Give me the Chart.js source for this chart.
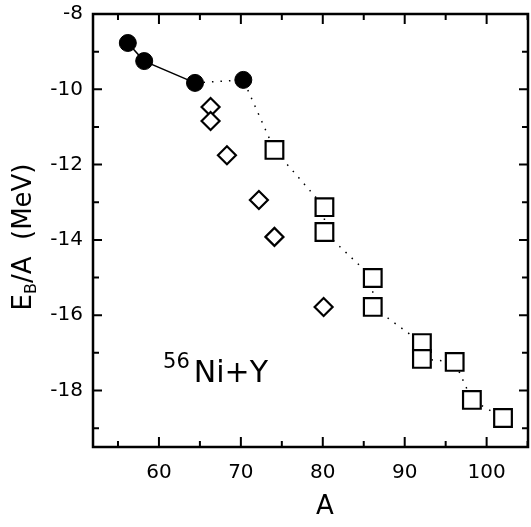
<!DOCTYPE html>
<html>
<head>
<meta charset="utf-8">
<script src="https://cdn.jsdelivr.net/npm/chart.js@4.4.1/dist/chart.umd.min.js"></script>
<style>
  html, body { margin: 0; padding: 0; background: #fff; }
  canvas { display: block; }
</style>
</head>
<body>
<canvas id="bindingChart" width="531" height="527"></canvas>
<script>
// values: A and E_B/A (MeV)
const circleA = [56.2, 58.2, 64.4, 70.3];
const circleE = [-8.77, -9.25, -9.83, -9.75];

const diamondA = [66.3, 66.3, 68.3, 72.2, 74.1, 80.1];
const diamondE = [-10.47, -10.84, -11.75, -12.94, -13.92, -15.78];

const squareA = [74.1, 80.2, 80.2, 86.1, 86.1, 92.1, 92.1, 96.1, 98.2, 102];
const squareE = [-11.61, -13.13, -13.79, -15.01, -15.78, -16.74, -17.16, -17.24, -18.25, -18.73];

const xMajorTicks = [60, 70, 80, 90, 100];
const xMinorTicks = [55, 65, 75, 85, 95, 105];
const yMajorTicks = [-8, -10, -12, -14, -16, -18];
const yMinorTicks = [-9, -11, -13, -15, -17, -19];

const FONT = "'DejaVu Sans', sans-serif";

const toPoints = (xs, ys) => xs.map((a, i) => ({ x: a, y: ys[i] }));

// solid line joins the first three circles, dotted one runs on through the squares
const solidPath = toPoints(circleA.slice(0, 3), circleE.slice(0, 3));
const dottedPath = toPoints(circleA.slice(2), circleE.slice(2)).concat(toPoints(squareA, squareE));

const framePlugin = {
    id: "frame",
    afterDatasetsDraw(chart) {
        const { ctx, chartArea: a, scales: { x, y } } = chart;
        ctx.save();
        ctx.strokeStyle = "#000";
        ctx.lineWidth = 2.5;
        ctx.strokeRect(a.left, a.top, a.right - a.left, a.bottom - a.top);

        ctx.lineWidth = 2;
        ctx.beginPath();
        const xt = (v, len) => {
            const px = x.getPixelForValue(v);
            ctx.moveTo(px, a.bottom); ctx.lineTo(px, a.bottom - len);
            ctx.moveTo(px, a.top); ctx.lineTo(px, a.top + len);
        };
        const yt = (v, len) => {
            const py = y.getPixelForValue(v);
            ctx.moveTo(a.left, py); ctx.lineTo(a.left + len, py);
            ctx.moveTo(a.right, py); ctx.lineTo(a.right - len, py);
        };
        xMajorTicks.forEach((v) => xt(v, 10));
        xMinorTicks.forEach((v) => xt(v, 6));
        yMajorTicks.forEach((v) => yt(v, 9));
        yMinorTicks.forEach((v) => yt(v, 6));
        ctx.stroke();
        ctx.restore();
    },
    afterDraw(chart) {
        const { ctx, scales: { x, y } } = chart;
        ctx.save();
        ctx.fillStyle = "#000";

        // reaction label
        const lx = x.getPixelForValue(60.5);
        const ly = y.getPixelForValue(-17.77);
        ctx.textBaseline = "alphabetic";
        ctx.textAlign = "left";
        ctx.font = "21px " + FONT;
        ctx.fillText("56", lx, ly - 14);
        const w56 = ctx.measureText("56").width;
        ctx.font = "30px " + FONT;
        ctx.fillText("Ni+Y", lx + w56 + 4, ly);

        // x title
        ctx.textAlign = "center";
        ctx.textBaseline = "middle";
        ctx.font = "26px " + FONT;
        ctx.fillText("A", 325, 507);

        // y title with subscript
        ctx.translate(24, 237);
        ctx.rotate(-Math.PI / 2);
        ctx.textAlign = "left";
        ctx.textBaseline = "middle";
        const big = "26px " + FONT, small = "16px " + FONT;
        ctx.font = big;
        const wE = ctx.measureText("E").width;
        const wRest = ctx.measureText("/A  (MeV)").width;
        ctx.font = small;
        const wB = ctx.measureText("B").width;
        let cx = -(wE + wB + wRest) / 2;
        ctx.font = big;
        ctx.fillText("E", cx, 0);
        cx += wE;
        ctx.font = small;
        ctx.fillText("B", cx, 8);
        cx += wB;
        ctx.font = big;
        ctx.fillText("/A  (MeV)", cx, 0);
        ctx.restore();
    },
};

const noPad = (s) => {
    s.paddingTop = 0;
    s.paddingBottom = 0;
    s.paddingLeft = 0;
    s.paddingRight = 0;
};

new Chart(document.getElementById("bindingChart"), {
    type: "scatter",
    data: {
        datasets: [
            {
                label: "circles",
                data: toPoints(circleA, circleE),
                pointStyle: "circle",
                pointRadius: 8.5,
                pointBackgroundColor: "#000",
                pointBorderColor: "#000",
                pointBorderWidth: 1,
            },
            {
                label: "diamonds",
                data: toPoints(diamondA, diamondE),
                pointStyle: "rectRot",
                pointRadius: 9,
                pointBackgroundColor: "#fff",
                pointBorderColor: "#000",
                pointBorderWidth: 2.2,
            },
            {
                label: "squares",
                data: toPoints(squareA, squareE),
                pointStyle: "rect",
                pointRadius: 12.5,
                pointBackgroundColor: "#fff",
                pointBorderColor: "#000",
                pointBorderWidth: 2.2,
            },
            {
                label: "solid",
                data: solidPath,
                showLine: true,
                borderColor: "#000",
                borderWidth: 1.5,
                pointRadius: 0,
            },
            {
                label: "dotted",
                data: dottedPath,
                showLine: true,
                borderColor: "#000",
                borderWidth: 1.5,
                borderDash: [1.5, 7],
                pointRadius: 0,
            },
        ],
    },
    options: {
        responsive: false,
        animation: false,
        layout: { autoPadding: false, padding: { top: 14, right: 3, left: 0, bottom: 0 } },
        plugins: {
            legend: { display: false },
            tooltip: { enabled: false },
        },
        scales: {
            x: {
                type: "linear",
                min: 51.95,
                max: 105.05,
                afterBuildTicks: (s) => { s.ticks = xMajorTicks.map((v) => ({ value: v })); },
                afterFit: (s) => { s.height = 80; noPad(s); },
                grid: { display: false, drawTicks: false },
                border: { display: false },
                ticks: {
                    color: "#000",
                    padding: 14,
                    font: { family: FONT, size: 20 },
                },
            },
            y: {
                type: "linear",
                min: -19.5,
                max: -8,
                afterBuildTicks: (s) => { s.ticks = yMajorTicks.map((v) => ({ value: v })); },
                afterFit: (s) => { s.width = 93; noPad(s); },
                grid: { display: false, drawTicks: false },
                border: { display: false },
                ticks: {
                    color: "#000",
                    padding: 10,
                    font: { family: FONT, size: 20 },
                },
            },
        },
    },
    plugins: [framePlugin],
});
</script>
</body>
</html>
